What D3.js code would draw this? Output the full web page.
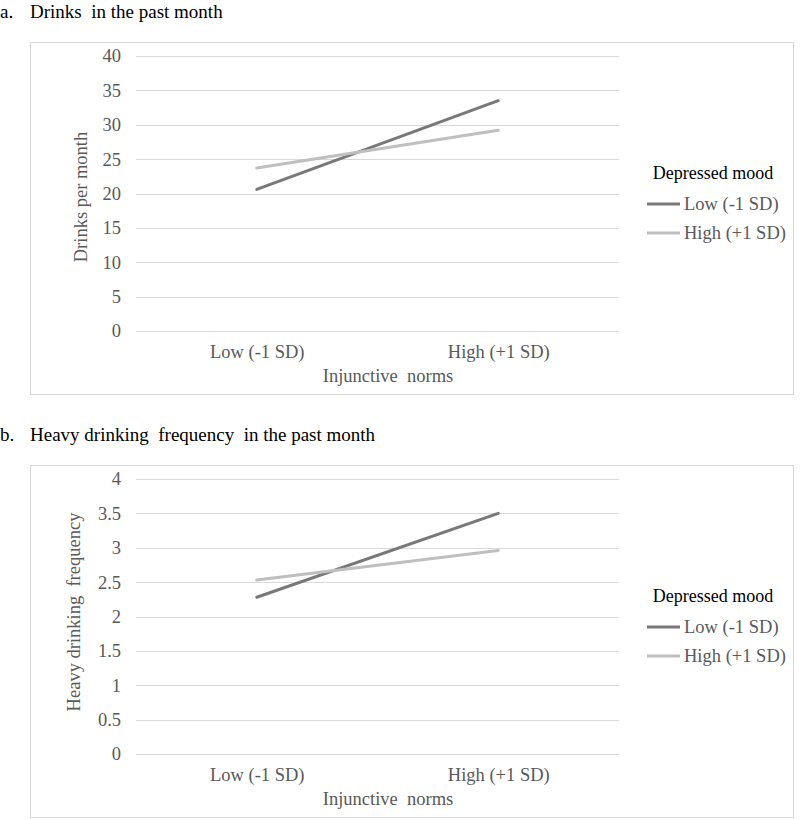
<!DOCTYPE html>
<html>
<head>
<meta charset="utf-8">
<script src="https://cdn.jsdelivr.net/npm/d3@7"></script>
<style>
  body { margin: 0; background: #fff; }
  text { font-family: "Liberation Serif", "Times New Roman", serif; }
</style>
</head>
<body>
<script>
var width = 800,
    height = 820;

// shared categories / legend
var normLevels = ["Low (-1 SD)", "High (+1 SD)"];
var moodLevels = ["Low (-1 SD)", "High (+1 SD)"];

// panel a: drinks per month
var drinksLowMood = [20.6, 33.5];
var drinksHighMood = [23.7, 29.2];
var drinksTicks = [0, 5, 10, 15, 20, 25, 30, 35, 40];

// panel b: heavy drinking frequency
var heavyLowMood = [2.28, 3.5];
var heavyHighMood = [2.53, 2.96];
var heavyTicks = [0, 0.5, 1, 1.5, 2, 2.5, 3, 3.5, 4];

var colors = ["#787878", "#bfbfbf"];

var svg = d3.select("body").append("svg")
    .attr("width", width)
    .attr("height", height);

function panel(opts) {
  var g = svg.append("g").attr("transform", "translate(0," + opts.top + ")");

  g.append("text")
      .attr("x", 0).attr("y", 18)
      .style("font-size", "19px")
      .attr("fill", "#000")
      .text(opts.letter);
  g.append("text")
      .attr("x", 30).attr("y", 18)
      .style("font-size", "19px")
      .style("white-space", "pre")
      .attr("fill", "#000")
      .text(opts.title);

  g.append("rect")
      .attr("x", 30.5).attr("y", 42.5)
      .attr("width", 763).attr("height", 352)
      .attr("fill", "none")
      .attr("stroke", "#d9d9d9");

  var x = d3.scalePoint().domain(normLevels).range([136, 619]).padding(0.5);
  var y = d3.scaleLinear().domain([0, d3.max(opts.ticks)]).range([331, 56]);

  // gridlines
  g.append("g")
    .selectAll("line")
    .data(opts.ticks)
    .enter().append("line")
      .attr("x1", 136).attr("x2", 619)
      .attr("y1", function(d) { return Math.round(y(d)) + 0.5; })
      .attr("y2", function(d) { return Math.round(y(d)) + 0.5; })
      .attr("stroke", "#d9d9d9");

  var yAxis = g.append("g")
      .attr("transform", "translate(136,0)")
      .call(d3.axisLeft(y).tickValues(opts.ticks).tickSize(0).tickPadding(15).tickFormat(d3.format("")));
  yAxis.select(".domain").remove();
  yAxis.selectAll("text")
      .style("font-size", "18.5px")
      .attr("fill", "#595959");

  var xAxis = g.append("g")
      .attr("transform", "translate(0,331)")
      .call(d3.axisBottom(x).tickSize(0).tickPadding(14));
  xAxis.select(".domain").remove();
  xAxis.selectAll("text")
      .style("font-size", "18.5px")
      .attr("fill", "#595959");

  g.append("text")
      .attr("x", 388).attr("y", 382)
      .attr("text-anchor", "middle")
      .style("font-size", "18.5px")
      .style("white-space", "pre")
      .attr("fill", "#595959")
      .text("Injunctive  norms");

  g.append("text")
      .attr("transform", "translate(" + opts.yTitleX + "," + opts.yTitleY + ") rotate(-90)")
      .attr("text-anchor", "middle")
      .attr("dy", "0.35em")
      .style("font-size", "18.5px")
      .style("white-space", "pre")
      .attr("fill", "#595959")
      .text(opts.yTitle);

  var line = d3.line()
      .x(function(d, i) { return x(normLevels[i]); })
      .y(function(d) { return y(d); });

  g.selectAll(".series")
    .data(opts.series)
    .enter().append("path")
      .attr("class", "series")
      .attr("d", line)
      .attr("fill", "none")
      .attr("stroke", function(d, i) { return colors[i]; })
      .attr("stroke-width", 3)
      .attr("stroke-linecap", "round");

  // legend
  var lg = g.append("g").attr("transform", "translate(647," + opts.legendTop + ")");
  lg.append("text")
      .attr("x", 66).attr("y", 0)
      .attr("dy", "0.35em")
      .attr("text-anchor", "middle")
      .style("font-size", "18px")
      .attr("fill", "#000")
      .text("Depressed mood");

  var item = lg.selectAll(".item")
    .data(moodLevels)
    .enter().append("g")
      .attr("class", "item")
      .attr("transform", function(d, i) { return "translate(0," + (31 + i * 29) + ")"; });
  item.append("line")
      .attr("x1", 0).attr("x2", 33)
      .attr("stroke", function(d, i) { return colors[i]; })
      .attr("stroke-width", 3);
  item.append("text")
      .attr("x", 37)
      .attr("dy", "0.35em")
      .style("font-size", "18.5px")
      .attr("fill", "#595959")
      .text(function(d) { return d; });
}

panel({
  top: 0,
  letter: "a.",
  title: "Drinks  in the past month",
  ticks: drinksTicks,
  series: [drinksLowMood, drinksHighMood],
  yTitle: "Drinks per month",
  yTitleX: 81,
  yTitleY: 197,
  legendTop: 173
});

panel({
  top: 423,
  letter: "b.",
  title: "Heavy drinking  frequency  in the past month",
  ticks: heavyTicks,
  series: [heavyLowMood, heavyHighMood],
  yTitle: "Heavy drinking  frequency",
  yTitleX: 74,
  yTitleY: 189,
  legendTop: 173
});
</script>
</body>
</html>
